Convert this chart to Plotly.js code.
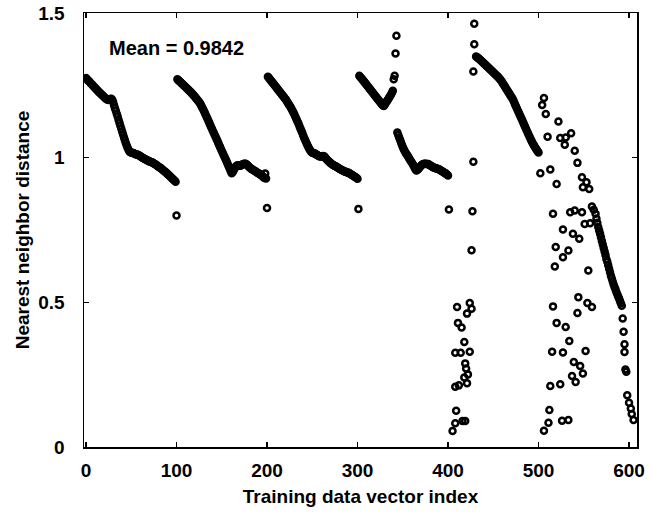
<!DOCTYPE html>
<html>
<head>
<meta charset="utf-8">
<script src="https://cdn.plot.ly/plotly-3.0.1.min.js"></script>
<style>html,body{margin:0;padding:0;background:#fff;}#chart{width:652px;height:514px;}</style>
</head>
<body>
<div id="chart"></div>
<script>
// Dense runs: y value per training vector index, starting at the given index
const seg1Start = 0;
const seg1Y = [1.275,1.272,1.268,1.265,1.262,1.258,1.255,1.252,1.248,1.245,1.241,1.238,1.235,1.231,1.228,1.225,
  1.222,1.219,1.216,1.213,1.210,1.207,1.204,1.202,1.200,1.199,1.201,1.203,1.204,1.200,
  1.192,1.181,1.171,1.162,1.152,1.142,1.131,1.121,1.110,1.100,1.090,1.080,1.070,1.060,1.051,1.042,1.034,1.027,1.021,
  1.019,1.018,1.017,1.016,1.015,1.013,1.012,1.011,1.010,1.009,
  1.007,1.005,1.003,1.001,0.999,0.997,0.995,0.994,0.992,0.990,0.989,0.987,0.986,0.985,0.984,
  0.982,0.980,0.978,0.976,0.974,0.972,0.969,0.967,0.965,0.963,0.960,
  0.957,0.955,0.952,0.950,0.947,0.944,0.941,
  0.938,0.935,0.932,0.929,0.926,0.923,0.920,0.917];

const seg2Start = 101;
const seg2Y = [1.271,1.268,1.265,1.262,1.259,1.256,1.253,1.250,1.247,1.244,1.241,1.238,1.235,1.232,1.229,1.226,1.222,1.219,1.215,1.212,1.208,1.204,1.200,1.196,1.192,1.188,
  1.182,1.176,1.170,1.164,1.157,1.150,1.143,1.136,1.129,1.122,1.115,1.108,1.101,1.094,1.087,1.080,1.073,1.066,1.059,1.052,1.045,1.038,1.031,1.024,1.017,1.010,1.003,0.996,0.989,0.982,0.975,0.968,0.961,0.953,0.946,
  0.950,0.956,0.962,0.967,0.971,0.973,0.974,0.973,0.972,0.973,0.975,0.977,0.978,0.979,0.979,0.978,
  0.975,0.972,0.969,0.966,0.963,0.961,0.959,0.957,0.955,0.953,0.951,0.949,0.947,0.945,0.943,0.941,0.939,0.936,0.933,0.930,0.945,0.928];

const seg3Start = 201;
const seg3Y = [1.280,1.276,1.272,1.268,1.264,1.260,1.256,1.252,1.248,1.244,1.240,1.236,1.232,1.228,1.224,1.220,1.216,1.212,1.208,1.204,1.200,1.195,
  1.190,1.185,1.180,1.175,1.169,1.163,1.157,1.151,1.144,1.137,1.130,1.123,1.116,1.108,1.100,1.093,1.085,1.077,1.069,1.062,1.055,1.048,1.041,1.035,1.029,1.024,1.020,1.017,
  1.016,1.015,1.014,1.012,1.010,1.008,1.006,1.005,1.004,1.004,1.005,1.006,1.005,1.002,0.998,
  0.994,0.991,0.988,0.985,0.982,0.979,0.977,0.975,0.973,0.971,0.970,0.968,0.966,0.964,0.962,
  0.960,0.958,0.957,0.955,0.953,0.952,0.951,0.950,0.949,0.948,0.946,0.944,0.942,0.940,0.938,0.936,0.934,0.932,0.930,0.927];

const seg4Start = 302;
const seg4Y = [1.283,1.279,1.275,1.272,1.268,1.264,1.260,1.256,1.252,1.248,1.244,1.240,1.236,1.232,1.228,1.224,1.220,1.216,1.212,1.208,1.204,1.200,1.196,1.192,1.188,1.184,1.181,1.179,
  1.183,1.188,1.193,1.198,1.203,1.208,1.213,1.218,1.224,1.231,
  1.271,1.283,1.360,1.421,
  1.087,1.078,1.070,1.062,1.053,1.045,1.037,1.030,1.024,1.018,1.013,
  1.008,1.003,0.998,0.993,0.988,0.983,0.978,0.972,0.966,0.960,0.956,
  0.957,0.960,0.964,0.968,0.972,0.975,0.977,0.978,0.979,0.979,0.978,0.978,0.978,
  0.976,0.974,0.972,0.970,0.968,0.966,0.965,0.964,0.963,0.962,0.961,0.960,0.958,0.956,0.954,0.952,0.950,0.948,0.946,0.944,0.941,0.938];

const seg5Start = 431;
const seg5Y = [1.350,1.347,1.345,1.342,1.340,1.337,1.334,1.331,1.328,1.325,1.322,1.319,1.316,1.313,1.310,1.307,1.304,1.301,1.298,1.295,1.292,1.289,1.286,1.283,1.280,1.277,1.273,
  1.269,1.265,1.260,1.255,1.250,1.245,1.240,1.235,1.230,1.225,1.220,1.215,1.210,1.205,1.199,
  1.192,1.185,1.178,1.171,1.164,1.157,1.150,1.143,1.136,1.129,1.122,
  1.115,1.108,1.101,1.094,1.087,1.080,1.073,1.066,1.059,
  1.053,1.047,1.042,1.037,1.032,1.027,1.022,1.018];

// Isolated low points closing each block
const outX = [100, 200, 301, 401];
const outY = [0.800, 0.826, 0.823, 0.821];

// Scattered points 400-430
const b5X = [405,408,408,408,409,410,411,412,414,415,416,418,418,419,419,420,421,421,422,424,424,426,429,429,428,428,427,426];
const b5Y = [0.055,0.082,0.208,0.326,0.125,0.484,0.429,0.213,0.326,0.413,0.090,0.363,0.240,0.289,0.090,0.271,0.461,0.220,0.251,0.498,0.329,0.478,1.463,1.392,1.298,0.986,0.815,0.680];

// Scattered points 500-560
const b6X = [502,504,506,506,508,510,511,512,513,513,515,516,516,518,519,520,520,522,524,524,526,527,527,527,529,530,530,533,533,534,535,536,537,538,539,540,540,541,543,543,544,545,546,548,548,549,549,551,552,553,554,555,556,557,559];
const b6Y = [0.946,1.182,1.206,0.056,1.151,1.072,0.084,0.128,0.959,0.211,0.329,0.806,0.486,0.624,0.691,0.909,0.429,1.125,1.068,0.217,0.091,0.327,0.752,0.656,1.045,1.070,0.415,0.679,0.093,0.366,0.811,1.084,0.245,0.737,0.294,1.024,0.817,0.225,0.982,0.463,0.518,0.720,0.280,0.932,0.811,0.254,0.898,0.771,0.332,0.915,0.498,0.610,0.892,0.773,0.484];

// Final falling run 559-605
const b6CurveX = [559,561,563,564,565,566,567,568,569,570,571,572,573,574,575,576,577,578,579,580,581,582,583,584,585,586,587,588,589,590,591,592,593,594,595,595,596,597,598,600,602,603,605];
const b6CurveY = [0.831,0.820,0.806,0.790,0.775,0.760,0.748,0.737,0.725,0.712,0.700,0.688,0.676,0.664,0.650,0.640,0.628,0.616,0.604,0.592,0.582,0.572,0.562,0.553,0.545,0.536,0.528,0.520,0.513,0.505,0.497,0.488,0.444,0.398,0.355,0.328,0.268,0.260,0.179,0.153,0.133,0.114,0.093];

const xTicks = [0, 100, 200, 300, 400, 500, 600];
const yTicks = [0, 0.5, 1, 1.5];
const yTickText = ['0', '0.5', '1', '1.5'];

let xs = [], ys = [];
function addRun(start, arr) { arr.forEach((v, i) => { xs.push(start + i); ys.push(v); }); }
function addPairs(ax, ay) { ax.forEach((v, i) => { xs.push(v); ys.push(ay[i]); }); }
addRun(seg1Start, seg1Y);
addRun(seg2Start, seg2Y);
addRun(seg3Start, seg3Y);
addRun(seg4Start, seg4Y);
addRun(seg5Start, seg5Y);
addPairs(outX, outY);
addPairs(b5X, b5Y);
addPairs(b6X, b6Y);
addPairs(b6CurveX, b6CurveY);

const F = 'Liberation Sans, Arial, Helvetica, sans-serif';
const trace = {
  x: xs, y: ys, type: 'scatter', mode: 'markers',
  marker: { symbol: 'circle-open', size: 6, color: '#000', line: { width: 2.5, color: '#000' } },
  hoverinfo: 'skip'
};
const layout = {
  width: 652, height: 514,
  margin: { l: 84, r: 15, t: 13, b: 67 },
  paper_bgcolor: '#fff', plot_bgcolor: '#fff',
  showlegend: false,
  font: { family: F, color: '#000', size: 19, weight: 'bold' },
  xaxis: {
    range: [-2.2, 608.8], tickvals: xTicks, ticktext: xTicks.map(String),
    showgrid: false, zeroline: false, showline: true, linecolor: '#000', linewidth: 1.5,
    mirror: 'ticks', ticks: 'inside', ticklen: 5, tickwidth: 1.2, tickcolor: '#000',
    ticklabelstandoff: 6,
    tickfont: { family: F, size: 19, weight: 'bold', color: '#000' },
    title: { text: 'Training data vector index', font: { family: F, size: 19, weight: 'bold', color: '#000' }, standoff: 9 }
  },
  yaxis: {
    range: [0, 1.5], tickvals: yTicks, ticktext: yTickText,
    showgrid: false, zeroline: false, showline: true, linecolor: '#000', linewidth: 1.5,
    mirror: 'ticks', ticks: 'inside', ticklen: 5, tickwidth: 1.2, tickcolor: '#000',
    ticklabelstandoff: 14,
    tickfont: { family: F, size: 19, weight: 'bold', color: '#000' },
    title: { text: 'Nearest neighbor distance', font: { family: F, size: 19, weight: 'bold', color: '#000' }, standoff: 3 }
  },
  annotations: [{
    xref: 'paper', yref: 'paper', x: 0.041, y: 0.92, xanchor: 'left', yanchor: 'middle',
    text: 'Mean = 0.9842', showarrow: false,
    font: { family: F, size: 20, weight: 'bold', color: '#000' }
  }]
};
Plotly.newPlot('chart', [trace], layout, { displayModeBar: false, staticPlot: true });
</script>
</body>
</html>
